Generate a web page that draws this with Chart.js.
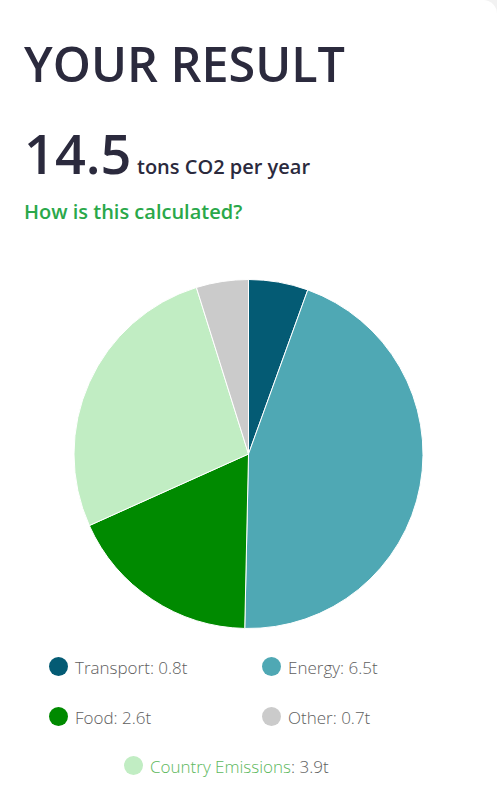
<!DOCTYPE html>
<html>
<head>
<meta charset="utf-8">
<script src="https://cdn.jsdelivr.net/npm/chart.js@4.4.0/dist/chart.umd.min.js"></script>
<style>
  html, body { margin: 0; padding: 0; }
  body {
    width: 497px; height: 787px; overflow: hidden;
    background: #f2f2f2;
    font-family: "Open Sans", sans-serif;
    position: relative;
  }
  .card {
    position: absolute; left: -20px; top: 0; width: 517px; height: 820px;
    background: #fff; border-radius: 14px;
  }
  .abs { position: absolute; line-height: 1; white-space: nowrap; }
  #title { left: 24px; top: 39px; font-size: 48.5px; font-weight: 600; color: #2b2a3d; }
  #total { left: 24px; top: 126px; font-size: 54px; font-weight: 600; color: #2b2a3d; }
  #unit { left: 137px; top: 157px; font-size: 20px; font-weight: 600; color: #2b2a3d; }
  #how { left: 24px; top: 202px; font-size: 20px; font-weight: 600; color: #2aa84a; }
  #pieBox { position: absolute; left: 0; top: 279px; width: 497px; height: 350px; }
  .leg { position: absolute; height: 20px; font-size: 17px; font-weight: 300; color: #5e5e5e; line-height: 1; white-space: nowrap; }
  .leg .dot { position: absolute; left: 0; top: -1px; width: 19px; height: 19px; border-radius: 50%; }
  .leg .txt { position: absolute; left: 26px; top: 1px; }
</style>
</head>
<body>
<div class="card"></div>
<div id="title" class="abs">YOUR RESULT</div>
<div id="total" class="abs"></div>
<div id="unit" class="abs">tons CO2 per year</div>
<div id="how" class="abs">How is this calculated?</div>
<div id="pieBox"><canvas id="pieChart"></canvas></div>
<div id="legend"></div>

<script>
var labels = ["Transport", "Energy", "Food", "Country Emissions", "Other"];
var values = [0.8, 6.5, 2.6, 3.9, 0.7];
var colors = ["#045b74", "#4fa8b4", "#008a00", "#c1edc3", "#cbcbcb"];

// legend shows the slices in this order
var legendOrder = [0, 1, 2, 4, 3];

var total = values.reduce(function (a, b) { return a + b; }, 0);
document.getElementById("total").textContent = total.toFixed(1);

var data = {
    labels: labels,
    datasets: [
        {
            data: values,
            backgroundColor: colors,
            borderColor: "#ffffff",
            borderWidth: 1,
        },
    ],
};

var options = {
    responsive: true,
    maintainAspectRatio: false,
    animation: false,
    layout: { padding: 0 },
    plugins: {
        legend: { display: false },
        tooltip: { enabled: false },
    },
};

var ctx = document.getElementById("pieChart").getContext("2d");
var pieChart = new Chart(ctx, {
    type: "pie",
    data: data,
    options: options,
});

// html legend: two columns, last item on its own row
var legend = document.getElementById("legend");
var slots = [
    { left: 49, top: 658 },
    { left: 262, top: 658 },
    { left: 49, top: 708 },
    { left: 262, top: 708 },
    { left: 124, top: 757 },
];
legendOrder.forEach(function (idx, i) {
    var item = document.createElement("div");
    item.className = "leg";
    item.style.left = slots[i].left + "px";
    item.style.top = slots[i].top + "px";
    var dot = document.createElement("span");
    dot.className = "dot";
    dot.style.background = colors[idx];
    var txt = document.createElement("span");
    txt.className = "txt";
    if (labels[idx] === "Country Emissions") {
        txt.innerHTML = '<span style="color:#5cb85c">' + labels[idx] + "</span>: " + values[idx].toFixed(1) + "t";
    } else {
        txt.textContent = labels[idx] + ": " + values[idx].toFixed(1) + "t";
    }
    item.appendChild(dot);
    item.appendChild(txt);
    legend.appendChild(item);
});
</script>
</body>
</html>
